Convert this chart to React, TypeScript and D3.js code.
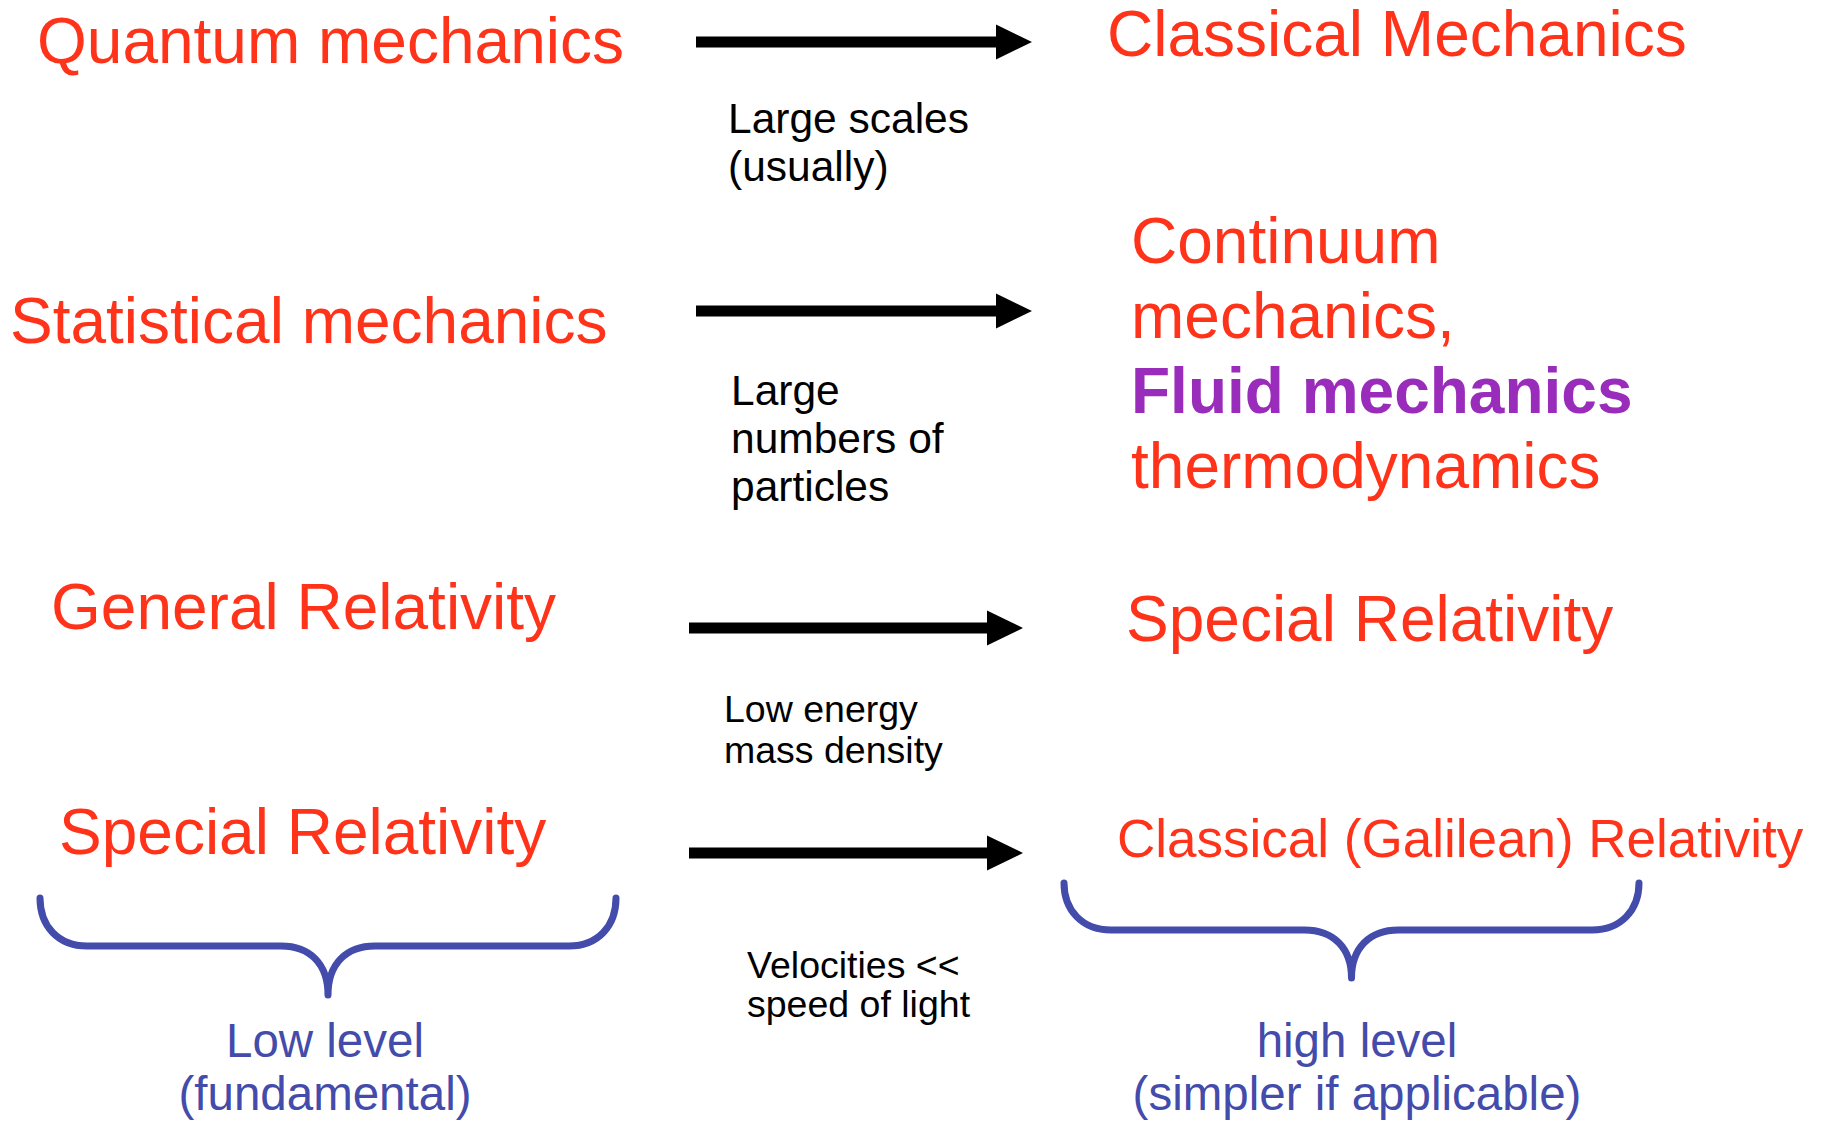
import React, { useRef, useEffect } from 'react';
import * as d3 from 'd3';

// labels, one entry per row (top to bottom)
const leftLabels = ['Quantum mechanics', 'Statistical mechanics', 'General Relativity', 'Special Relativity'];
const rightLabels = [
  ['Classical Mechanics'],
  ['Continuum', 'mechanics,', 'Fluid mechanics', 'thermodynamics'],
  ['Special Relativity'],
  ['Classical (Galilean) Relativity'],
];
const highlightLabels = ['Fluid mechanics'];
const conditionLabels = [
  ['Large scales', '(usually)'],
  ['Large', 'numbers of', 'particles'],
  ['Low energy', 'mass density'],
  ['Velocities <<', 'speed of light'],
];
const levelLabels = [
  ['Low level', '(fundamental)'],
  ['high level', '(simpler if applicable)'],
];

const RED = '#ff3319';
const PURPLE = '#9a2cbb';
const BLUE = '#434bab';
const FONT = "'Liberation Sans', Arial, Helvetica, sans-serif";

const App = () => {
  const svgRef = useRef<SVGSVGElement>(null);

  useEffect(() => {
    document.body.style.margin = '0';
    const svg = d3.select(svgRef.current);
    svg.selectAll('*').remove();

    const width = 1830;
    const height = 1121;

    // layout for each row
    const leftX = [37, 10, 51, 59];
    const leftY = [63, 343, 629, 854];
    const rightX = [1107, 1131, 1126, 1117];
    const rightY = [56, 263, 641, 857];
    const rightSize = [64, 64, 64, 53];
    const rightStep = 75;
    const arrowX0 = [696, 696, 689, 689];
    const arrowX1 = [1032, 1032, 1023, 1023];
    const arrowY = [42, 311, 628, 853];
    const condX = [728, 731, 724, 747];
    const condY = [133, 405, 722, 978];
    const condSize = [42.5, 42.5, 37.5, 37.5];
    const condStep = [48, 48, 41, 39];

    const g = svg.append('g').style('font-family', FONT);

    // left labels
    g.selectAll('text.left')
      .data(leftLabels)
      .join('text')
      .attr('class', 'left')
      .attr('x', (d, i) => leftX[i])
      .attr('y', (d, i) => leftY[i])
      .attr('fill', RED)
      .style('font-size', '64px')
      .text(d => d);

    // right labels (multi-line)
    rightLabels.forEach((lines, i) => {
      g.append('g')
        .selectAll('text')
        .data(lines)
        .join('text')
        .attr('x', rightX[i])
        .attr('y', (d, j) => rightY[i] + j * rightStep)
        .attr('fill', d => (highlightLabels.includes(d) ? PURPLE : RED))
        .style('font-weight', d => (highlightLabels.includes(d) ? 'bold' : 'normal'))
        .style('font-size', `${rightSize[i]}px`)
        .text(d => d);
    });

    // arrows
    const headLen = 36;
    const headHalf = 17.5;
    const shaft = 11;
    arrowY.forEach((y, i) => {
      const p = d3.path();
      const x0 = arrowX0[i];
      const x1 = arrowX1[i];
      p.moveTo(x0, y - shaft / 2);
      p.lineTo(x1 - headLen, y - shaft / 2);
      p.lineTo(x1 - headLen, y - headHalf);
      p.lineTo(x1, y);
      p.lineTo(x1 - headLen, y + headHalf);
      p.lineTo(x1 - headLen, y + shaft / 2);
      p.lineTo(x0, y + shaft / 2);
      p.closePath();
      g.append('path').attr('d', p.toString()).attr('fill', '#000');
    });

    // condition labels under arrows
    conditionLabels.forEach((lines, i) => {
      g.append('g')
        .selectAll('text')
        .data(lines)
        .join('text')
        .attr('x', condX[i])
        .attr('y', (d, j) => condY[i] + j * condStep[i])
        .attr('fill', '#000')
        .style('font-size', `${condSize[i]}px`)
        .text(d => d);
    });

    // braces
    const braces = [
      { x0: 40, x1: 616, top: 898, bar: 946, tip: 995 },
      { x0: 1064, x1: 1639, top: 883, bar: 930, tip: 978 },
    ];
    braces.forEach(b => {
      const mid = (b.x0 + b.x1) / 2;
      const r = 47;
      const p = d3.path();
      p.moveTo(b.x0, b.top);
      p.bezierCurveTo(b.x0, b.bar - 20, b.x0 + 18, b.bar, b.x0 + r, b.bar);
      p.lineTo(mid - r, b.bar);
      p.bezierCurveTo(mid - 18, b.bar, mid, b.bar + 18, mid, b.tip);
      p.bezierCurveTo(mid, b.bar + 18, mid + 18, b.bar, mid + r, b.bar);
      p.lineTo(b.x1 - r, b.bar);
      p.bezierCurveTo(b.x1 - 18, b.bar, b.x1, b.bar - 20, b.x1, b.top);
      g.append('path')
        .attr('d', p.toString())
        .attr('fill', 'none')
        .attr('stroke', BLUE)
        .attr('stroke-width', 7)
        .attr('stroke-linecap', 'round')
        .attr('stroke-linejoin', 'round');
    });

    // level labels under braces
    const levelX = [325, 1357];
    levelLabels.forEach((lines, i) => {
      g.append('g')
        .selectAll('text')
        .data(lines)
        .join('text')
        .attr('x', levelX[i])
        .attr('y', (d, j) => 1057 + j * 53)
        .attr('text-anchor', 'middle')
        .attr('fill', BLUE)
        .style('font-size', '47.5px')
        .text(d => d);
    });

    svg.attr('width', width).attr('height', height);
  }, []);

  return (
    <div style={{ width: 1830, height: 1121, background: '#fff' }}>
      <svg ref={svgRef} width={1830} height={1121} style={{ display: 'block', background: '#fff' }}></svg>
    </div>
  );
};

export default App;
